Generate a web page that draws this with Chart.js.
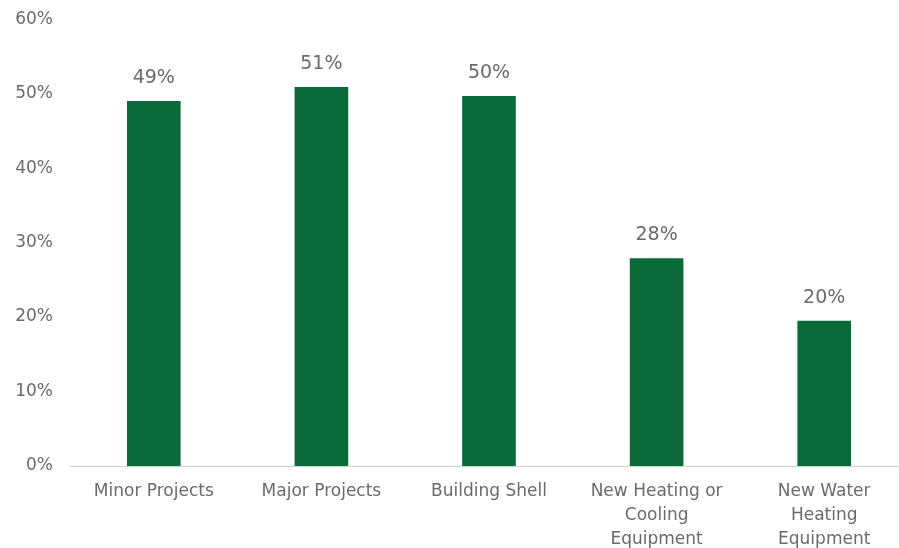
<!DOCTYPE html>
<html>
<head>
<meta charset="utf-8">
<script src="https://cdn.jsdelivr.net/npm/chart.js@4/dist/chart.umd.min.js"></script>
<style>
  html, body { margin: 0; padding: 0; background: #fff; overflow: hidden; }
  #wrap { width: 908px; height: 548px; position: relative; }
</style>
</head>
<body>
<div id="wrap"><canvas id="c"></canvas></div>
<script>
// 类别与数值
const categories = [
  'Minor Projects',
  'Major Projects',
  'Building Shell',
  ['New Heating or', 'Cooling', 'Equipment'],
  ['New Water', 'Heating', 'Equipment']
];
const values = [49.0, 50.9, 49.7, 27.9, 19.5];
const valueLabels = ['49%', '51%', '50%', '28%', '20%'];
const yTicks = [0, 10, 20, 30, 40, 50, 60];

const barColor = '#0b6b38';
const textColor = '#6a6a6a';
const fontFamily = '"DejaVu Sans", "Liberation Sans", Arial, sans-serif';

// 柱顶数值标签
const barLabels = {
  id: 'barLabels',
  afterDatasetsDraw(chart) {
    const ctx = chart.ctx;
    const meta = chart.getDatasetMeta(0);
    ctx.save();
    ctx.font = '19px ' + fontFamily;
    ctx.fillStyle = textColor;
    ctx.textAlign = 'center';
    ctx.textBaseline = 'middle';
    meta.data.forEach((bar, i) => {
      ctx.fillText(valueLabels[i], bar.x, bar.y - 23);
    });
    ctx.restore();
  }
};

new Chart(document.getElementById('c'), {
  type: 'bar',
  data: {
    labels: categories,
    datasets: [{
      data: values,
      backgroundColor: barColor,
      borderWidth: 0,
      barPercentage: 0.32,
      categoryPercentage: 1
    }]
  },
  plugins: [barLabels],
  options: {
    responsive: true,
    maintainAspectRatio: false,
    animation: false,
    layout: { padding: { top: 13, right: 0, bottom: 0, left: 0 } },
    plugins: {
      legend: { display: false },
      tooltip: { enabled: false }
    },
    scales: {
      x: {
        grid: { display: false },
        border: { display: true, color: '#d0d0d0', width: 1 },
        ticks: {
          color: textColor,
          font: { size: 17, family: fontFamily, lineHeight: 1.4 },
          padding: 6,
          maxRotation: 0,
          autoSkip: false
        },
        afterFit(scale) { scale.height = 82; }
      },
      y: {
        min: 0,
        max: 60,
        grid: { display: false },
        border: { display: false },
        afterBuildTicks(scale) { scale.ticks = yTicks.map(v => ({ value: v })); },
        ticks: {
          color: textColor,
          font: { size: 17, family: fontFamily },
          padding: 9,
          callback: v => v + '%'
        },
        afterFit(scale) { scale.width = 70; }
      }
    }
  }
});
</script>
</body>
</html>
